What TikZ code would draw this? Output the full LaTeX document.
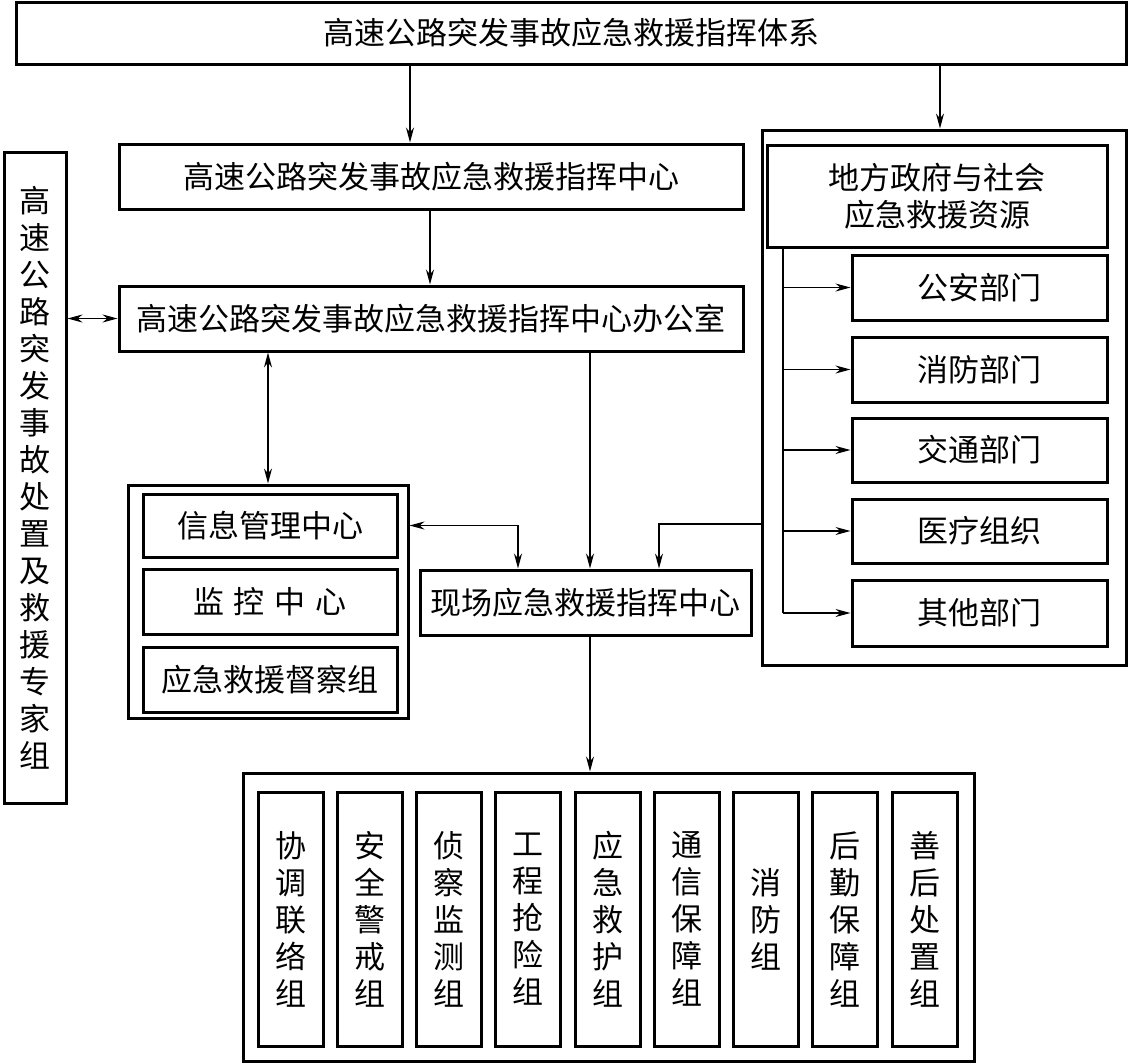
\documentclass[tikz,border=0pt]{standalone}
\usepackage{fontspec}
\setmainfont{Noto Sans CJK SC}
\usetikzlibrary{arrows.meta,calc}
\begin{document}
\begin{tikzpicture}[x=1pt,y=-1pt,
  box/.style={draw,line width=3pt,inner sep=0pt,align=center,
    font=\fontsize{31pt}{37pt}\selectfont},
  frame/.style={draw,line width=3pt,inner sep=0pt},
  conn/.style={line width=1.3pt},
  arr/.style={conn,-{Stealth[length=15pt,width=8pt]}},
  darr/.style={conn,{Stealth[length=15pt,width=8pt]}-{Stealth[length=15pt,width=8pt]}},
  col/.style={box,minimum width=65pt,minimum height=254pt}]
\useasboundingbox (0,0) rectangle (1129,1063);

% helper coordinates
\coordinate (x410) at (410,0);
\coordinate (x940) at (940,0);
\coordinate (x430) at (430,0);
\coordinate (x518) at (518,0);
\coordinate (x590) at (590,0);
\coordinate (x659) at (659,0);
\coordinate (x783) at (783,0);
\coordinate (y524) at (0,524);

% top
\node[box,minimum width=1110pt,minimum height=62pt] (top) at (571,33) {高速公路突发事故应急救援指挥体系};

% left expert column
\node[box,minimum width=62pt,minimum height=651pt] (expert) at (35,477.5)
  {高\\速\\公\\路\\突\\发\\事\\故\\处\\置\\及\\救\\援\\专\\家\\组};

% center chain
\node[box,minimum width=624pt,minimum height=65pt] (c1) at (431,176.5) {高速公路突发事故应急救援指挥中心};
\node[box,minimum width=624pt,minimum height=65pt] (c2) at (431,318.5) {高速公路突发事故应急救援指挥中心办公室};

% left group
\node[frame,minimum width=280pt,minimum height=233pt] (grp) at (268,601.5) {};
\node[box,minimum width=254pt,minimum height=63pt] (info) at (270,525.5) {信息管理中心};
\node[box,minimum width=254pt,minimum height=65pt] (mon) at (270,601.5) {监\hspace{10pt}控\hspace{10pt}中\hspace{10pt}心};
\node[box,minimum width=254pt,minimum height=65pt] (sup) at (270,679.5) {应急救援督察组};

% onsite
\node[box,minimum width=331pt,minimum height=65pt] (onsite) at (585.5,602.5) {现场应急救援指挥中心};

% right group
\node[frame,minimum width=364pt,minimum height=535pt] (rgt) at (944,397.5) {};
\node[box,minimum width=340pt,minimum height=102pt] (gov) at (937,196) {地方政府与社会\\应急救援资源};
\node[box,minimum width=255pt,minimum height=65pt] (s1) at (979.5,287.5) {公安部门};
\node[box,minimum width=255pt,minimum height=65pt] (s2) at (979.5,369.5) {消防部门};
\node[box,minimum width=255pt,minimum height=64pt] (s3) at (979.5,450) {交通部门};
\node[box,minimum width=255pt,minimum height=64pt] (s4) at (979.5,531) {医疗组织};
\node[box,minimum width=255pt,minimum height=66pt] (s5) at (979.5,613) {其他部门};

% bottom group
\node[frame,minimum width=731pt,minimum height=288pt] (bot) at (608.5,917) {};
\node[col] (g1) at (290.5,919) {协\\调\\联\\络\\组};
\node[col] (g2) at (369.75,919) {安\\全\\警\\戒\\组};
\node[col] (g3) at (449,919) {侦\\察\\监\\测\\组};
\node[col] (g4) at (528.25,919) {工\\程\\抢\\险\\组};
\node[col] (g5) at (607.5,919) {应\\急\\救\\护\\组};
\node[col] (g6) at (686.75,919) {通\\信\\保\\障\\组};
\node[col] (g7) at (766,919) {消\\防\\组};
\node[col] (g8) at (845.25,919) {后\\勤\\保\\障\\组};
\node[col] (g9) at (924.5,919) {善\\后\\处\\置\\组};

% connectors
\draw[arr] (top.south -| x410) -- (c1.north -| x410);
\draw[arr] (top.south -| x940) -- (rgt.north -| x940);
\draw[arr] (c1.south -| x430) -- (c1.south -| x430) -- (c2.north -| x430);
\draw[darr] (expert.east |- c2.west) -- (c2.west);
\draw[darr] (c2.south -| grp.north) -- (grp.north);
\draw[darr] (grp.east |- info.center) -- (x518 |- info.center) -- (onsite.north -| x518);
\draw[arr] (c2.south -| x590) -- (onsite.north -| x590);
\draw[arr] (rgt.west |- y524) -| (onsite.north -| x659);
\draw[conn] (gov.south -| x783) -- (x783 |- s5.west);
\foreach \s in {s1,s2,s3,s4,s5}{
  \draw[arr] (x783 |- \s.west) -- (\s.west);
}
\draw[arr] (onsite.south -| x590) -- (bot.north -| x590);
\end{tikzpicture}
\end{document}
